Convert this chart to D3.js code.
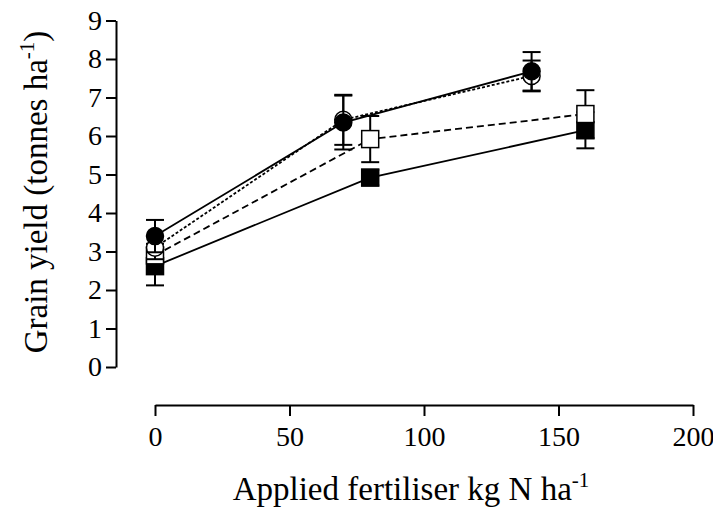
<!DOCTYPE html>
<html>
<head>
<meta charset="utf-8">
<script src="https://cdn.jsdelivr.net/npm/d3@7"></script>
<style>
  body { margin: 0; background: #ffffff; }
  svg text { font-family: "Liberation Serif", "DejaVu Serif", serif; fill: #000; }
</style>
</head>
<body>
<svg id="chart"></svg>
<script>
const width = 713, height = 510;
const serif = '"Liberation Serif", "DejaVu Serif", serif';

const xTicks = [0, 50, 100, 150, 200];
const yTicks = [0, 1, 2, 3, 4, 5, 6, 7, 8, 9];

// four treatments: x, mean, error
const filledCircleX = [0, 70, 140];
const filledCircleY = [3.4, 6.35, 7.68];
const filledCircleErr = [0.42, 0.7, 0.5];

const openCircleX = [0, 70, 140];
const openCircleY = [3.1, 6.42, 7.56];
const openCircleErr = [0.3, 0.65, 0.4];

const openSquareX = [0, 80, 160];
const openSquareY = [2.9, 5.92, 6.57];
const openSquareErr = [0.3, 0.6, 0.62];

const filledSquareX = [0, 80, 160];
const filledSquareY = [2.62, 4.92, 6.15];
const filledSquareErr = [0.5, 0.2, 0.47];

const series = [
    {x: filledSquareX, y: filledSquareY, e: filledSquareErr, shape: "square", fill: "#000", dash: null},
    {x: openSquareX, y: openSquareY, e: openSquareErr, shape: "square", fill: "#fff", dash: "7,4"},
    {x: openCircleX, y: openCircleY, e: openCircleErr, shape: "circle", fill: "#fff", dash: "3,2"},
    {x: filledCircleX, y: filledCircleY, e: filledCircleErr, shape: "circle", fill: "#000", dash: null}
];

const svg = d3.select("#chart").attr("width", width).attr("height", height);

const x = d3.scaleLinear().domain([0, 200]).range([155, 693]);
const y = d3.scaleLinear().domain([0, 9]).range([367, 20.5]);

// axes
const yAxis = svg.append("g")
    .attr("transform", "translate(116,0)")
    .call(d3.axisLeft(y).tickValues(yTicks).tickSize(10).tickPadding(4).tickSizeOuter(0));
const xAxis = svg.append("g")
    .attr("transform", "translate(0,405)")
    .call(d3.axisBottom(x).tickValues(xTicks).tickSize(11).tickPadding(10).tickSizeOuter(0));

[xAxis, yAxis].forEach(a => {
    a.attr("font-family", serif).attr("font-size", 28);
    a.selectAll("path, line").attr("stroke", "#000").attr("stroke-width", 2);
    a.selectAll("text").style("font-size", "28px").style("font-family", serif);
});

const line = d3.line().x(d => x(d[0])).y(d => y(d[1]));

// lines first
series.forEach(s => {
    const pts = s.x.map((v, i) => [v, s.y[i]]);
    svg.append("path")
        .attr("d", line(pts))
        .attr("fill", "none")
        .attr("stroke", "#000")
        .attr("stroke-width", 1.8)
        .attr("stroke-dasharray", s.dash);
});

// error bars and markers
series.forEach(s => {
    const g = svg.append("g");
    s.x.forEach((v, i) => {
        const cx = x(v), top = y(s.y[i] + s.e[i]), bot = y(s.y[i] - s.e[i]);
        g.append("line").attr("x1", cx).attr("x2", cx).attr("y1", top).attr("y2", bot)
            .attr("stroke", "#000").attr("stroke-width", 2);
        [top, bot].forEach(yy => {
            g.append("line").attr("x1", cx - 9).attr("x2", cx + 9).attr("y1", yy).attr("y2", yy)
                .attr("stroke", "#000").attr("stroke-width", 2);
        });
    });
    s.x.forEach((v, i) => {
        const cx = x(v), cy = y(s.y[i]);
        if (s.shape === "circle") {
            g.append("circle").attr("cx", cx).attr("cy", cy).attr("r", 8.5)
                .attr("fill", s.fill).attr("stroke", "#000").attr("stroke-width", 1.5);
        } else {
            g.append("rect").attr("x", cx - 8.5).attr("y", cy - 8.5).attr("width", 17).attr("height", 17)
                .attr("fill", s.fill).attr("stroke", "#000").attr("stroke-width", 1.5);
        }
    });
});

// axis titles
const yt = svg.append("text")
    .attr("transform", "translate(47,192) rotate(-90)")
    .attr("text-anchor", "middle")
    .style("font-family", serif)
    .style("font-size", "33px");
yt.append("tspan").text("Grain yield (tonnes ha");
yt.append("tspan").attr("dy", -13).style("font-size", "21px").text("-1");
yt.append("tspan").attr("dy", 13).text(")");

const xt = svg.append("text")
    .attr("x", 411).attr("y", 500)
    .attr("text-anchor", "middle")
    .style("font-family", serif)
    .style("font-size", "33px");
xt.append("tspan").text("Applied fertiliser kg N ha");
xt.append("tspan").attr("dy", -13).style("font-size", "21px").text("-1");
</script>
</body>
</html>
